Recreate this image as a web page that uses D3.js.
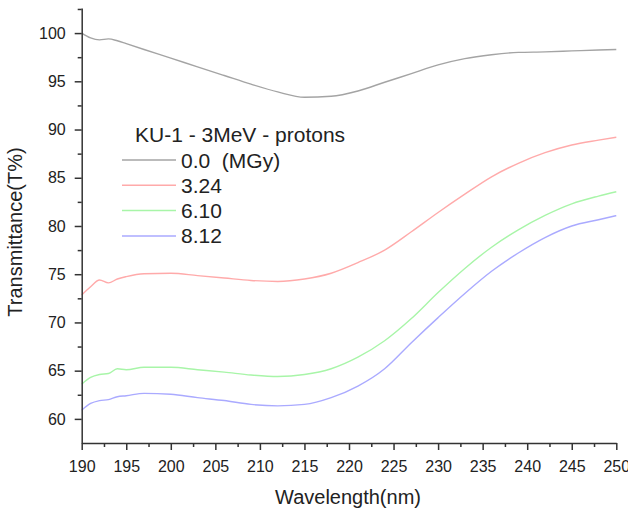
<!DOCTYPE html>
<html>
<head>
<meta charset="utf-8">
<script src="https://cdn.jsdelivr.net/npm/d3@7"></script>
<style>
  body { margin: 0; background: #fff; }
  text { font-family: "Liberation Sans", Arial, sans-serif; fill: #222; }
</style>
</head>
<body>
<svg id="chart" width="628" height="513"></svg>
<script>
// wavelength (nm)
const wavelength = [190, 191, 192, 193, 194, 195, 197, 200, 203, 206, 209, 212, 215, 218, 221, 224, 227, 230, 233, 236, 239, 242, 245, 248, 250];

// transmittance (%) per dose
const dose0 = [100.0, 99.5, 99.3, 99.4, 99.2, 98.9, 98.3, 97.4, 96.5, 95.6, 94.7, 93.9, 93.35, 93.45, 94.0, 94.9, 95.8, 96.7, 97.35, 97.75, 98.0, 98.05, 98.15, 98.25, 98.3];
const dose324 = [72.85, 73.7, 74.4, 74.1, 74.5, 74.75, 75.05, 75.1, 74.85, 74.6, 74.35, 74.25, 74.5, 75.1, 76.2, 77.5, 79.4, 81.4, 83.3, 85.1, 86.5, 87.6, 88.4, 88.9, 89.2];
const dose610 = [63.6, 64.3, 64.6, 64.7, 65.2, 65.1, 65.35, 65.35, 65.1, 64.85, 64.55, 64.4, 64.6, 65.2, 66.4, 68.1, 70.4, 73.1, 75.6, 77.8, 79.6, 81.1, 82.3, 83.1, 83.55];
const dose812 = [60.9, 61.6, 61.9, 62.0, 62.3, 62.4, 62.65, 62.55, 62.2, 61.9, 61.5, 61.35, 61.5, 62.2, 63.4, 65.2, 67.9, 70.5, 73.0, 75.3, 77.2, 78.8, 80.0, 80.65, 81.07];

const seriesLabels = ["0.0  (MGy)", "3.24", "6.10", "8.12"];
const seriesColors = ["#a4a4a4", "#ffaaaa", "#a8f5a8", "#aaaaff"];
const legendTitle = "KU-1 - 3MeV - protons";

const xTicks = d3.range(190, 251, 5);
const yTicks = d3.range(60, 101, 5);

const svg = d3.select("#chart");

const x = d3.scaleLinear().domain([190, 250]).range([81.7, 616.3]);
const y = d3.scaleLinear().domain([57.5, 102.6]).range([443, 8]);

const series = [dose0, dose324, dose610, dose812].map((vals, i) => ({
  label: seriesLabels[i],
  color: seriesColors[i],
  points: wavelength.map((w, j) => ({ w, t: vals[j] }))
}));

// lines
const line = d3.line()
  .x(d => x(d.w))
  .y(d => y(d.t))
  .curve(d3.curveMonotoneX);

svg.append("g")
  .selectAll("path")
  .data(series)
  .join("path")
  .attr("d", d => line(d.points))
  .attr("fill", "none")
  .attr("stroke", d => d.color)
  .attr("stroke-width", 1.4);

// axes
const xAxis = svg.append("g").attr("transform", `translate(0,${y.range()[0]})`);
xAxis.call(d3.axisBottom(x).tickValues(xTicks).tickFormat(d3.format("d"))
  .tickSize(7).tickPadding(11).tickSizeOuter(0));

const xMinor = svg.append("g").attr("transform", `translate(0,${y.range()[0]})`);
xMinor.call(d3.axisBottom(x).tickValues(d3.range(192.5, 250, 5)).tickFormat("")
  .tickSize(4).tickSizeOuter(0));
xMinor.select(".domain").remove();

const yAxis = svg.append("g").attr("transform", `translate(${x.range()[0]},0)`);
yAxis.call(d3.axisLeft(y).tickValues(yTicks).tickFormat(d3.format("d"))
  .tickSize(7).tickPadding(9).tickSizeOuter(0));

const yMinor = svg.append("g").attr("transform", `translate(${x.range()[0]},0)`);
yMinor.call(d3.axisLeft(y).tickValues(d3.range(62.5, 103, 5)).tickFormat("")
  .tickSize(4).tickSizeOuter(0));
yMinor.select(".domain").remove();

svg.selectAll(".domain, .tick line").attr("stroke", "#333").attr("stroke-width", 1.5);
svg.selectAll(".tick text")
  .attr("font-size", 16)
  .attr("font-family", "Liberation Sans, Arial, sans-serif")
  .attr("fill", "#222");

// axis titles
svg.append("text")
  .attr("x", 348).attr("y", 504)
  .attr("text-anchor", "middle")
  .attr("font-size", 20)
  .text("Wavelength(nm)");

svg.append("text")
  .attr("transform", "translate(22,232) rotate(-90)")
  .attr("text-anchor", "middle")
  .attr("font-size", 20)
  .text("Transmittance(T%)");

// legend
const legend = svg.append("g");
legend.append("text")
  .attr("x", 135).attr("y", 142)
  .attr("font-size", 21)
  .text(legendTitle);

const rows = legend.selectAll("g.row")
  .data(series)
  .join("g")
  .attr("class", "row")
  .attr("transform", (d, i) => `translate(0,${160 + i * 25.3})`);

rows.append("line")
  .attr("x1", 122).attr("x2", 176)
  .attr("stroke", d => d.color)
  .attr("stroke-width", 1.5);

rows.append("text")
  .attr("x", 181).attr("y", 7.5)
  .attr("font-size", 21)
  .style("white-space", "pre")
  .text(d => d.label);
</script>
</body>
</html>
